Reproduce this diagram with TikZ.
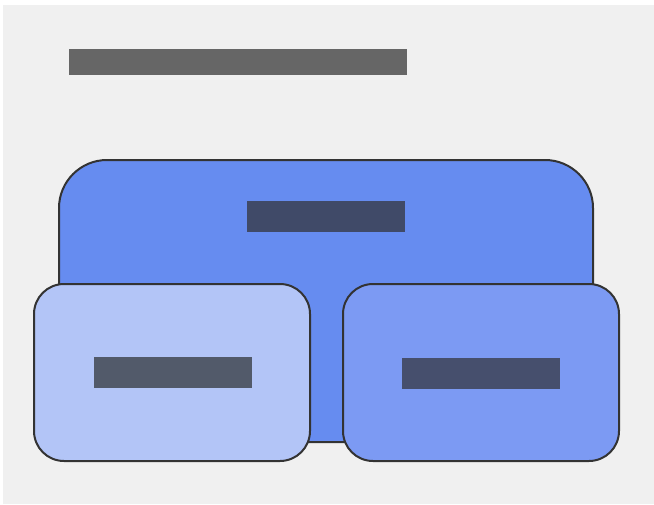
\documentclass[tikz,border=0pt]{standalone}
\begin{document}
\definecolor{pagebg}{HTML}{F0F0F0}
\definecolor{edge}{HTML}{333333}
\definecolor{mainfill}{HTML}{668CF0}
\definecolor{leftfill}{HTML}{B3C5F7}
\definecolor{rightfill}{HTML}{7C9AF3}
\definecolor{titlebar}{HTML}{666666}
\definecolor{mainbar}{HTML}{404A68}
\definecolor{leftbar}{HTML}{525A6A}
\definecolor{rightbar}{HTML}{464F6D}
\begin{tikzpicture}[x=1pt,y=-1pt,
  panel/.style={draw=edge,line width=2pt,inner sep=0pt,outer sep=0pt,anchor=north west},
  bar/.style={inner sep=0pt,outer sep=0pt,anchor=north west}]
  \useasboundingbox (0,0) rectangle (654,504);
  \fill[white] (0,0) rectangle (654,504);
  \fill[pagebg] (3,5) rectangle (654,504);
  % heading
  \node[bar,fill=titlebar,minimum width=338pt,minimum height=26pt] (title) at (69,49) {};
  % outer container
  \node[panel,fill=mainfill,rounded corners=48pt,minimum width=534pt,minimum height=282pt] (main) at (59,160) {};
  \node[bar,fill=mainbar,minimum width=158pt,minimum height=31pt] (mainlabel) at (247,201) {};
  % two inner panels
  \node[panel,fill=leftfill,rounded corners=30pt,minimum width=276pt,minimum height=177pt] (left) at (34,284) {};
  \node[bar,fill=leftbar,minimum width=158pt,minimum height=31pt] (leftlabel) at (94,357) {};
  \node[panel,fill=rightfill,rounded corners=30pt,minimum width=276pt,minimum height=177pt] (right) at (343,284) {};
  \node[bar,fill=rightbar,minimum width=158pt,minimum height=31pt] (rightlabel) at (402,358) {};
\end{tikzpicture}
\end{document}
